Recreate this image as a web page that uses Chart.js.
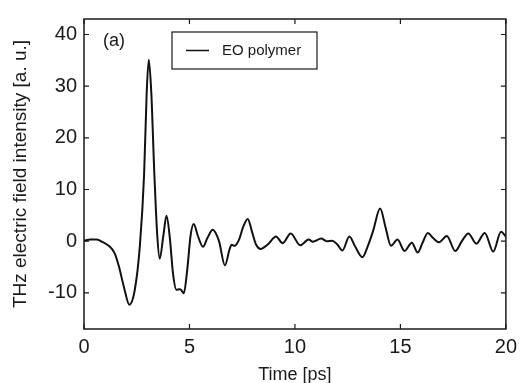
<!DOCTYPE html>
<html>
<head>
<meta charset="utf-8">
<script src="https://cdn.jsdelivr.net/npm/chart.js@4"></script>
<style>
  html, body { margin: 0; padding: 0; background: #fff; }
  #wrap { width: 523px; height: 383px; }
</style>
</head>
<body>
<div id="wrap"><canvas id="thzChart" width="523" height="383"></canvas></div>
<script>
// Data (time in ps, field in a.u.)
const timePs = [0, 0.3, 0.6, 0.9, 1.2, 1.45, 1.65, 1.9, 2.15, 2.4, 2.65, 2.85, 2.97, 3.07, 3.19, 3.33, 3.47, 3.59, 3.76, 3.91,
    4.07, 4.22, 4.38, 4.52, 4.6, 4.73, 4.89, 5.05, 5.2, 5.4, 5.64, 5.85, 6.1, 6.4, 6.68, 6.9, 7.0, 7.14, 7.34, 7.55,
    7.76, 7.98, 8.15, 8.38, 8.6, 8.75, 9.1, 9.42, 9.8, 10.25, 10.65, 10.85, 11.25, 11.5, 11.76, 12.0, 12.25, 12.58, 12.85, 13.2,
    13.45, 13.7, 14.04, 14.3, 14.55, 14.86, 15.2, 15.54, 15.82, 16.05, 16.3, 16.55, 16.83, 17.2, 17.6, 17.9, 18.22, 18.6, 19.0, 19.4,
    19.77, 20];
const fieldAU = [0.1, 0.3, 0.3, -0.2, -1.0, -2.3, -4.8, -9.0, -12.3, -9.6, -0.8, 13, 28.5, 35.1, 28.8, 13.5, 1.3, -3.4, 1.0, 4.9,
    0.6, -6.3, -9.4, -9.3, -9.4, -10.1, -5.7, 1.0, 3.3, 1.0, -1.1, 0.6, 2.2, 0.0, -4.7, -1.6, -0.7, -0.9, 0.2, 2.8,
    4.3, 1.6, -0.6, -1.5, -1.0, -0.5, 0.9, -0.4, 1.5, -0.8, 0.3, -0.1, 0.5, 0.0, 0.1, -0.6, -1.8, 0.9, -1.0, -3.1,
    -1.0, 1.9, 6.3, 2.6, -0.9, 0.3, -1.9, -0.3, -2.2, -0.3, 1.6, 0.6, -0.2, 1.0, -1.9, -0.1, 1.5, -0.5, 1.6, -2.0,
    1.8, 0.9];
const seriesName = "EO polymer";
const panelTag = "(a)";
const xTicks = [0, 5, 10, 15, 20];
const yTicks = [-10, 0, 10, 20, 30, 40];

const FONT = "'Liberation Sans', Arial, Helvetica, sans-serif";
const INK = "#1a1a1a";

// Frame, inward ticks on all four sides, legend box and panel tag
const framePlugin = {
    id: "frameTicks",
    afterDatasetsDraw(chart) {
        const { ctx, chartArea: a, scales } = chart;
        ctx.save();
        ctx.strokeStyle = INK;
        ctx.lineWidth = 1.5;
        ctx.strokeRect(a.left, a.top, a.right - a.left, a.bottom - a.top);

        ctx.lineWidth = 1.2;
        const len = 5;
        ctx.beginPath();
        for (const v of xTicks) {
            const px = scales.x.getPixelForValue(v);
            ctx.moveTo(px, a.bottom); ctx.lineTo(px, a.bottom - len);
            ctx.moveTo(px, a.top); ctx.lineTo(px, a.top + len);
        }
        for (const v of yTicks) {
            const py = scales.y.getPixelForValue(v);
            ctx.moveTo(a.left, py); ctx.lineTo(a.left + len, py);
            ctx.moveTo(a.right, py); ctx.lineTo(a.right - len, py);
        }
        ctx.stroke();

        // legend
        const ds = chart.data.datasets[0];
        const bx = a.left + 88, by = a.top + 13, bw = 145, bh = 37;
        ctx.lineWidth = 1.2;
        ctx.strokeRect(bx, by, bw, bh);
        ctx.strokeStyle = ds.borderColor;
        ctx.lineWidth = 1.5;
        ctx.beginPath();
        ctx.moveTo(bx + 14, by + bh / 2);
        ctx.lineTo(bx + 37, by + bh / 2);
        ctx.stroke();
        ctx.fillStyle = INK;
        ctx.font = "15px " + FONT;
        ctx.textBaseline = "middle";
        ctx.fillText(ds.label, bx + 50, by + bh / 2);

        // panel tag
        ctx.font = "18px " + FONT;
        ctx.fillText(panelTag, a.left + 19, a.top + 22);
        ctx.restore();
    }
};

new Chart(document.getElementById("thzChart"), {
    type: "line",
    data: {
        datasets: [{
            label: seriesName,
            data: timePs.map((t, i) => ({ x: t, y: fieldAU[i] })),
            borderColor: "#111",
            borderWidth: 2,
            pointRadius: 0,
            fill: false,
            cubicInterpolationMode: "monotone"
        }]
    },
    options: {
        responsive: false,
        animation: false,
        events: [],
        layout: { padding: { left: 0, right: 16, top: 14, bottom: 0 } },
        plugins: { legend: { display: false }, tooltip: { enabled: false } },
        scales: {
            x: {
                type: "linear",
                min: 0,
                max: 20,
                afterFit: s => { s.height = 54; },
                afterBuildTicks: s => { s.ticks = xTicks.map(v => ({ value: v })); },
                grid: { display: false, drawTicks: false },
                border: { display: false },
                ticks: { color: INK, font: { family: FONT, size: 20 }, padding: 6, maxRotation: 0 },
                title: { display: true, text: "Time [ps]", color: INK, font: { family: FONT, size: 18 }, padding: { top: 0, bottom: -3 } }
            },
            y: {
                min: -17,
                max: 43,
                afterFit: s => { s.width = 84; },
                afterBuildTicks: s => { s.ticks = yTicks.map(v => ({ value: v })); },
                grid: { display: false, drawTicks: false },
                border: { display: false },
                ticks: { color: INK, font: { family: FONT, size: 20 }, padding: 7 },
                title: { display: true, text: "THz electric field intensity [a. u.]", color: INK, font: { family: FONT, size: 19 }, padding: { top: 9, bottom: 0 } }
            }
        }
    },
    plugins: [framePlugin]
});
</script>
</body>
</html>
